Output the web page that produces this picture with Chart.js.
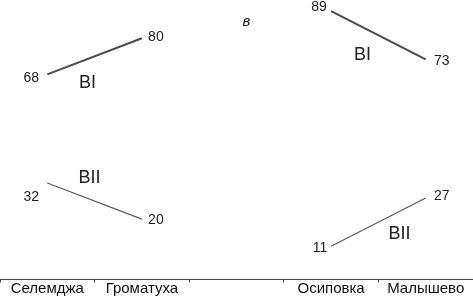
<!DOCTYPE html>
<html>
<head>
<meta charset="utf-8">
<script src="https://cdn.jsdelivr.net/npm/chart.js@4"></script>
<style>
  html, body { margin: 0; padding: 0; background: #fff; }
  #wrap { width: 473px; height: 296px; }
</style>
</head>
<body>
<div id="wrap"><canvas id="slopeChart"></canvas></div>
<script>
// sites along the x axis (middle slot is left empty in the original)
const categories = ['Селемджа', 'Громатуха', '', 'Осиповка', 'Малышево'];
const seriesNames = ['BI', 'BII'];
const biValues = [68, 80, null, 89, 73];
const biiValues = [32, 20, null, 11, 27];
const panelLetter = 'в';

// label placement relative to each point (px), per dataset
const valueOffsets = [
  [[-16, 4], [14, -1], null, [-12, -4], [16, 2]],
  [[-16, 14], [14, 1], null, [-11, 2], [16, -2]]
];
// series name placement relative to each segment midpoint
const nameOffsets = [
  [[-7, 27], [-16, 20]],
  [[-5, -23], [21, 12]]
];

const labelPlugin = {
  id: 'slopeLabels',
  afterDatasetsDraw(chart) {
    const c = chart.ctx;
    c.save();
    c.fillStyle = '#222';
    c.textAlign = 'center';
    c.textBaseline = 'middle';
    chart.data.datasets.forEach((ds, di) => {
      const pts = chart.getDatasetMeta(di).data;
      c.font = '14px "Liberation Sans", Arial, sans-serif';
      ds.data.forEach((v, i) => {
        if (v === null) return;
        const o = valueOffsets[di][i];
        c.fillText(String(v), pts[i].x + o[0], pts[i].y + o[1]);
      });
      c.font = '18px "Liberation Sans", Arial, sans-serif';
      [[0, 1], [3, 4]].forEach((seg, si) => {
        const mx = (pts[seg[0]].x + pts[seg[1]].x) / 2;
        const my = (pts[seg[0]].y + pts[seg[1]].y) / 2;
        const o = nameOffsets[di][si];
        c.fillText(seriesNames[di], mx + o[0], my + o[1]);
      });
    });
    const xs = chart.scales.x;
    c.font = 'italic 15px "Liberation Sans", Arial, sans-serif';
    c.fillText(panelLetter, xs.getPixelForValue(2) + 10, chart.chartArea.top + 20);
    c.restore();
  }
};

const ctx = document.getElementById('slopeChart').getContext('2d');
new Chart(ctx, {
  type: 'line',
  data: {
    labels: categories,
    datasets: [{
      label: seriesNames[0],
      data: biValues,
      borderColor: '#4a4a4a',
      borderWidth: 2,
      pointRadius: 0,
      spanGaps: false,
      tension: 0
    }, {
      label: seriesNames[1],
      data: biiValues,
      borderColor: '#5a5a5a',
      borderWidth: 1.2,
      pointRadius: 0,
      spanGaps: false,
      tension: 0
    }]
  },
  options: {
    responsive: true,
    maintainAspectRatio: false,
    animation: false,
    layout: { padding: { top: 2, left: 0, right: 0, bottom: 0 } },
    plugins: {
      legend: { display: false },
      tooltip: { enabled: false }
    },
    scales: {
      x: {
        offset: true,
        border: { display: true, color: '#444', width: 1 },
        grid: { offset: true, drawOnChartArea: false, drawTicks: true, tickLength: 3, color: '#444' },
        ticks: {
          color: '#111',
          padding: 0,
          maxRotation: 0,
          autoSkip: false,
          font: { family: '"Liberation Sans", Arial, sans-serif', size: 15, lineHeight: 0.9 }
        }
      },
      y: {
        display: false,
        min: 0,
        max: 92
      }
    }
  },
  plugins: [labelPlugin]
});
</script>
</body>
</html>
